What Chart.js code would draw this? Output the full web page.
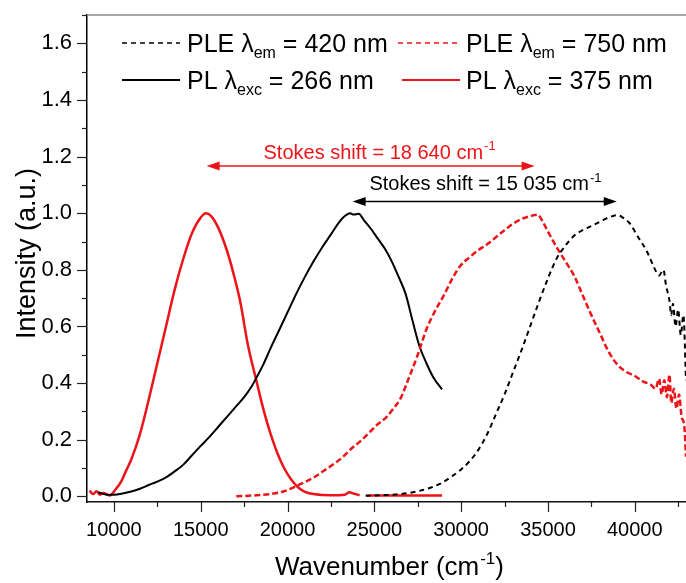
<!DOCTYPE html>
<html>
<head>
<meta charset="utf-8">
<script src="https://cdn.jsdelivr.net/npm/chart.js@4.4.1/dist/chart.umd.min.js"></script>
<style>
  html, body { margin: 0; padding: 0; background: #fff; }
  #wrap { width: 686px; height: 583px; }
</style>
</head>
<body>
<div id="wrap"><canvas id="spectra" width="686" height="583"></canvas></div>
<script>
// PLE, lambda_em = 420 nm (black dashed)
const ple420X = [24500, 25500, 26500, 27500, 28300, 28900, 29500, 30000, 30500, 31000, 31500, 32000, 32500, 33000, 33500, 34000, 34500, 35000, 35500, 36000, 36500, 37000, 37500, 38000, 38500, 39000, 39300, 39700, 40200, 40700, 41100, 41400, 41650, 41800, 42000, 42100, 42200, 42350, 42500, 42650, 42800, 42950];
const ple420Y = [0.002, 0.004, 0.008, 0.018, 0.032, 0.048, 0.072, 0.095, 0.125, 0.165, 0.22, 0.29, 0.36, 0.44, 0.52, 0.605, 0.69, 0.77, 0.84, 0.885, 0.92, 0.94, 0.955, 0.97, 0.985, 0.993, 0.985, 0.965, 0.915, 0.865, 0.81, 0.78, 0.8, 0.745, 0.69, 0.64, 0.68, 0.6, 0.66, 0.57, 0.64, 0.41];

// PLE, lambda_em = 750 nm (red dashed)
const ple750X = [17050, 18000, 19000, 19800, 20500, 21000, 21600, 22200, 22800, 23200, 23700, 24200, 24700, 25200, 25700, 26100, 26500, 27000, 27500, 28000, 28500, 29000, 29500, 29900, 30500, 31000, 31500, 32000, 32500, 33000, 33500, 34000, 34400, 34700, 35000, 35500, 36000, 36500, 37000, 37500, 38000, 38500, 39000, 39500, 40000, 40500, 40900, 41200, 41400, 41550, 41700, 41850, 42000, 42100, 42250, 42400, 42550, 42700, 42850, 42950];
const ple750Y = [0.0, 0.003, 0.008, 0.018, 0.036, 0.05, 0.07, 0.095, 0.12, 0.14, 0.17, 0.195, 0.225, 0.255, 0.28, 0.31, 0.345, 0.42, 0.5, 0.59, 0.655, 0.71, 0.77, 0.81, 0.845, 0.87, 0.89, 0.915, 0.94, 0.963, 0.98, 0.99, 0.995, 0.97, 0.935, 0.88, 0.83, 0.78, 0.71, 0.64, 0.575, 0.51, 0.465, 0.44, 0.425, 0.405, 0.395, 0.38, 0.415, 0.36, 0.41, 0.35, 0.43, 0.33, 0.38, 0.31, 0.36, 0.28, 0.25, 0.14];

// PL, lambda_exc = 266 nm (black solid)
const pl266X = [9100, 9300, 9600, 10000, 10500, 11000, 11500, 12000, 12500, 13000, 13500, 14000, 14500, 15000, 15500, 16000, 16500, 17000, 17500, 17900, 18200, 18600, 19000, 19500, 20000, 20500, 21000, 21500, 22000, 22500, 23000, 23300, 23600, 23800, 24100, 24400, 24800, 25200, 25600, 26000, 26400, 26800, 27200, 27600, 28000, 28400, 28900];
const pl266Y = [0.015, 0.01, 0.006, 0.006, 0.01, 0.017, 0.027, 0.04, 0.052, 0.067, 0.088, 0.112, 0.145, 0.178, 0.21, 0.245, 0.28, 0.315, 0.35, 0.385, 0.418, 0.465, 0.52, 0.585, 0.65, 0.715, 0.775, 0.83, 0.88, 0.925, 0.97, 0.99, 1.0, 0.995, 0.998, 0.975, 0.945, 0.91, 0.875, 0.83, 0.775, 0.715, 0.62, 0.53, 0.47, 0.42, 0.378];

// PL, lambda_exc = 375 nm (red solid); null = gap in the record
const pl375X = [8600, 8800, 9000, 9200, 9400, 9750, 10100, 10400, 10700, 11000, 11500, 12000, 12500, 13000, 13500, 14000, 14500, 15000, 15300, 15600, 16000, 16500, 17000, 17300, 17700, 18200, 18600, 19000, 19400, 19800, 20200, 20600, 21000, 21600, 22500, 23300, 23550, 23800, 24150, 24350, 24550, 26000, 28900];
const pl375Y = [0.02, 0.008, 0.018, 0.006, 0.012, 0.003, 0.025, 0.05, 0.09, 0.13, 0.22, 0.34, 0.47, 0.6, 0.73, 0.84, 0.93, 0.985, 1.0, 0.99, 0.95, 0.87, 0.76, 0.68, 0.54, 0.41, 0.31, 0.225, 0.155, 0.1, 0.06, 0.032, 0.016, 0.007, 0.004, 0.006, 0.014, 0.01, 0.004, null, 0.003, 0.003, 0.003];

// axis ticks (labelled ones are the multiples of 5000 / 0.2)
const xTicks = [10000, 12500, 15000, 17500, 20000, 22500, 25000, 27500, 30000, 32500, 35000, 37500, 40000, 42500];
const yTicks = [0, 0.1, 0.2, 0.3, 0.4, 0.5, 0.6, 0.7, 0.8, 0.9, 1.0, 1.1, 1.2, 1.3, 1.4, 1.5, 1.6, 1.7];

// legend text: main part, subscript, tail
const legendMain = ['PLE \u03bb', 'PLE \u03bb', 'PL \u03bb', 'PL \u03bb'];
const legendSub = ['em', 'em', 'exc', 'exc'];
const legendTail = [' = 420 nm', ' = 750 nm', ' = 266 nm', ' = 375 nm'];

// Stokes shift arrows (data units)
const shiftText = ['Stokes shift = 18 640 cm', 'Stokes shift = 15 035 cm'];
const shiftFrom = [15340, 23750];
const shiftTo = [34230, 38960];
const shiftArrowY = [1.167, 1.041];
const shiftTextX = [25300, 31400];
const shiftTextY = [1.217, 1.107];

const RED = '#ec1419';
const FONT = 'Arial, "Liberation Sans", Helvetica, sans-serif';

function pts(xs, ys) {
    return xs.map((x, i) => ({ x: x, y: ys[i] }));
}

function isMajorX(v) { return Math.round(v) % 5000 === 0; }
function isMajorY(v) { return Math.round(v * 10) % 2 === 0; }

// text followed by a small raised part, centred on cx
function drawSup(ctx, text, sup, after, cx, base, size, color) {
    const small = Math.round(size * 0.65);
    ctx.fillStyle = color;
    ctx.textBaseline = 'alphabetic';
    ctx.textAlign = 'left';
    ctx.font = size + 'px ' + FONT;
    const w1 = ctx.measureText(text).width;
    const w3 = ctx.measureText(after).width;
    ctx.font = small + 'px ' + FONT;
    const w2 = ctx.measureText(sup).width;
    const x0 = cx - (w1 + w2 + w3 + 1) / 2;
    ctx.font = size + 'px ' + FONT;
    ctx.fillText(text, x0, base);
    ctx.fillText(after, x0 + w1 + w2 + 1, base);
    ctx.font = small + 'px ' + FONT;
    ctx.fillText(sup, x0 + w1 + 1, base - size * 0.42);
}

function arrow(ctx, x1, x2, y, color) {
    ctx.strokeStyle = color;
    ctx.fillStyle = color;
    ctx.lineWidth = 1.5;
    ctx.setLineDash([]);
    ctx.beginPath();
    ctx.moveTo(x1 + 6, y);
    ctx.lineTo(x2 - 6, y);
    ctx.stroke();
    [[x1, 1], [x2, -1]].forEach(([x, d]) => {
        ctx.beginPath();
        ctx.moveTo(x, y);
        ctx.lineTo(x + d * 13, y - 4.5);
        ctx.lineTo(x + d * 13, y + 4.5);
        ctx.closePath();
        ctx.fill();
    });
}

const extras = {
    id: 'extras',
    afterDraw(chart) {
        const ctx = chart.ctx;
        const xs = chart.scales.x, ys = chart.scales.y;
        const area = chart.chartArea;
        ctx.save();

        // top frame line
        ctx.strokeStyle = '#8a8a8a';
        ctx.lineWidth = 1.5;
        ctx.beginPath();
        ctx.moveTo(area.left, area.top);
        ctx.lineTo(area.right, area.top);
        ctx.stroke();

        // tick marks, major long, minor short, outward
        ctx.strokeStyle = '#222';
        ctx.lineWidth = 1.2;
        xs.ticks.forEach(t => {
            const px = Math.round(xs.getPixelForValue(t.value)) + 0.5;
            const len = isMajorX(t.value) ? 10 : 5;
            ctx.beginPath();
            ctx.moveTo(px, area.bottom);
            ctx.lineTo(px, area.bottom + len);
            ctx.stroke();
        });
        ys.ticks.forEach(t => {
            const py = Math.round(ys.getPixelForValue(t.value)) + 0.5;
            const len = isMajorY(t.value) ? 10 : 5;
            ctx.beginPath();
            ctx.moveTo(area.left, py);
            ctx.lineTo(area.left - len, py);
            ctx.stroke();
        });

        // axis titles
        drawSup(ctx, 'Wavenumber (cm', '-1', ')', (area.left + area.right) / 2 + 3, 575, 26, '#000');

        ctx.save();
        ctx.translate(35, (area.top + area.bottom) / 2 - 5);
        ctx.rotate(-Math.PI / 2);
        ctx.textAlign = 'center';
        ctx.textBaseline = 'alphabetic';
        ctx.font = '27px ' + FONT;
        ctx.fillStyle = '#000';
        ctx.fillText('Intensity (a.u.)', 0, 0);
        ctx.restore();

        // Stokes shift annotations
        const colors = [RED, '#000'];
        for (let i = 0; i < shiftText.length; i++) {
            arrow(ctx, xs.getPixelForValue(shiftFrom[i]), xs.getPixelForValue(shiftTo[i]),
                  ys.getPixelForValue(shiftArrowY[i]), colors[i]);
            drawSup(ctx, shiftText[i], '-1', '', xs.getPixelForValue(shiftTextX[i]),
                    ys.getPixelForValue(shiftTextY[i]) + 7, 20, colors[i]);
        }

        // legend with subscripts
        const cells = [[122, 180, 187, 43], [398, 460, 466, 43], [122, 180, 187, 80], [402, 460, 466, 80]];
        chart.data.datasets.forEach((ds, i) => {
            const [l0, l1, tx, ly] = cells[i];
            ctx.strokeStyle = ds.borderColor;
            ctx.lineWidth = ds.borderDash.length ? 1.6 : 2.2;
            ctx.setLineDash(ds.borderDash.length ? [5, 4] : []);
            ctx.beginPath();
            ctx.moveTo(l0, ly);
            ctx.lineTo(l1, ly);
            ctx.stroke();
            ctx.setLineDash([]);
            ctx.fillStyle = '#000';
            ctx.textAlign = 'left';
            ctx.textBaseline = 'alphabetic';
            const base = ly + 9;
            ctx.font = '25px ' + FONT;
            ctx.fillText(legendMain[i], tx, base);
            let x = tx + ctx.measureText(legendMain[i]).width;
            ctx.font = '16px ' + FONT;
            ctx.fillText(legendSub[i], x, base + 6);
            x += ctx.measureText(legendSub[i]).width;
            ctx.font = '25px ' + FONT;
            ctx.fillText(legendTail[i], x, base);
        });
        ctx.restore();
    }
};

function noPad(s) {
    s.paddingTop = 0;
    s.paddingBottom = 0;
    s.paddingLeft = 0;
    s.paddingRight = 0;
}

new Chart(document.getElementById('spectra'), {
    type: 'line',
    data: {
        datasets: [
            { label: 'PLE \u03bbem = 420 nm', data: pts(ple420X, ple420Y), borderColor: '#000', borderWidth: 2, borderDash: [5, 4] },
            { label: 'PLE \u03bbem = 750 nm', data: pts(ple750X, ple750Y), borderColor: RED, borderWidth: 2.5, borderDash: [6, 3] },
            { label: 'PL \u03bbexc = 266 nm', data: pts(pl266X, pl266Y), borderColor: '#000', borderWidth: 2, borderDash: [] },
            { label: 'PL \u03bbexc = 375 nm', data: pts(pl375X, pl375Y), borderColor: RED, borderWidth: 2.5, borderDash: [] }
        ]
    },
    options: {
        responsive: false,
        animation: false,
        devicePixelRatio: 1,
        layout: { padding: { top: 15, left: 0, right: 0, bottom: 0 } },
        plugins: { legend: { display: false }, tooltip: { enabled: false } },
        elements: { point: { radius: 0 }, line: { cubicInterpolationMode: 'monotone', borderJoinStyle: 'round', fill: false } },
        spanGaps: false,
        scales: {
            x: {
                type: 'linear',
                min: 8450,
                max: 42950,
                afterBuildTicks: s => { s.ticks = xTicks.map(v => ({ value: v })); },
                afterFit: s => { s.height = 81; noPad(s); },
                grid: { display: false },
                border: { display: true, color: '#111', width: 1.5 },
                ticks: {
                    autoSkip: false, maxRotation: 0, minRotation: 0,
                    padding: 8, color: '#000',
                    font: { size: 20, family: FONT },
                    callback: v => (isMajorX(v) ? String(v) : '')
                }
            },
            y: {
                min: -0.02,
                max: 1.70,
                afterBuildTicks: s => { s.ticks = yTicks.map(v => ({ value: v })); },
                afterFit: s => { s.width = 87; noPad(s); },
                grid: { display: false },
                border: { display: true, color: '#000', width: 1.5 },
                ticks: {
                    autoSkip: false, padding: 7, color: '#000',
                    font: { size: 22, family: FONT },
                    callback: v => (isMajorY(v) ? v.toFixed(1) : '')
                }
            }
        }
    },
    plugins: [extras]
});
</script>
</body>
</html>
